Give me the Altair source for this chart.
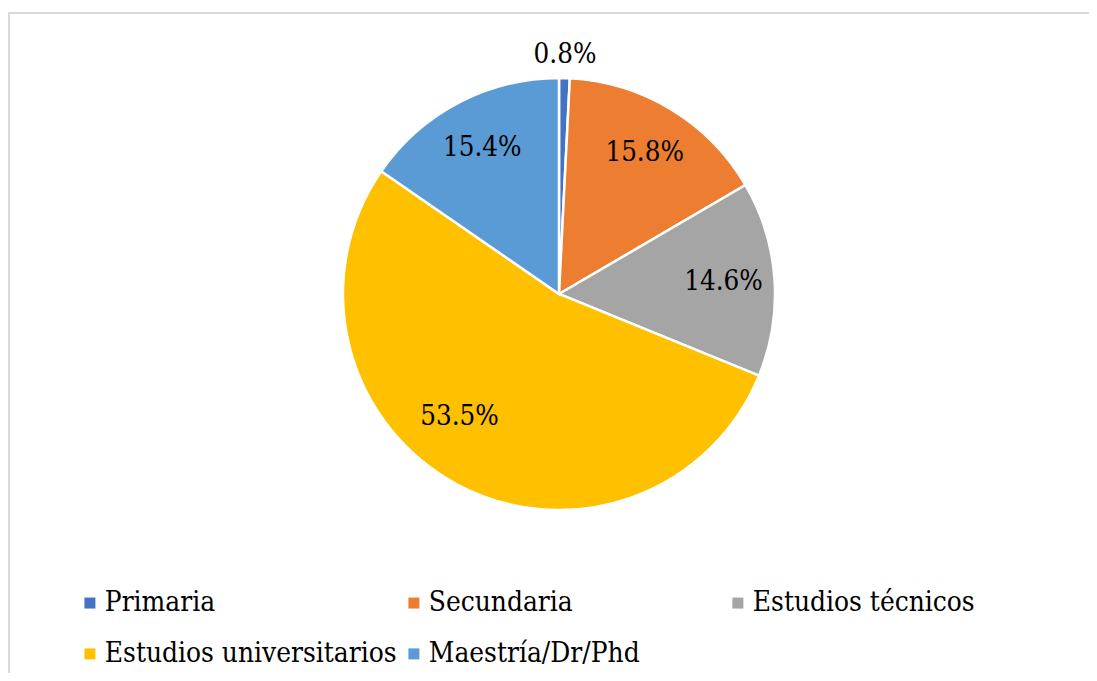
import altair as alt
import pandas as pd

categorias = ["Primaria", "Secundaria", "Estudios técnicos", "Estudios universitarios", "Maestría/Dr/Phd"]
valores = [0.8, 15.8, 14.6, 53.5, 15.4]
colores = ["#4472C4", "#ED7D31", "#A5A5A5", "#FFC000", "#5B9BD5"]
etiquetas = [f"{v}%" for v in valores]

df = pd.DataFrame({
    "categoria": categorias,
    "valor": valores,
    "orden": list(range(len(categorias))),
    "etiqueta": etiquetas,
})
total = sum(valores)

W, H = 1081, 665
CX, CY = 551, 286
R = 216
R_IN = 165
R_OUT = 239
FONT = "DejaVu Serif Condensed"

color = alt.Color(
    "categoria:N",
    scale=alt.Scale(domain=categorias, range=colores),
    legend=alt.Legend(
        title=None, orient="none", legendX=68, legendY=581,
        direction="horizontal", columns=3, gridAlign="all",
        columnPadding=3, rowPadding=22,
        symbolType="square", symbolSize=121, symbolStrokeWidth=0,
        labelFont=FONT, labelFontSize=27.8, labelColor="black",
        labelOffset=1, padding=0, labelLimit=500,
    ),
)

arcs = alt.Chart(df).mark_arc(outerRadius=R, stroke="white", strokeWidth=2.5).encode(
    theta=alt.Theta("valor:Q", stack=True),
    color=color,
    order=alt.Order("orden:Q"),
    x=alt.value(CX),
    y=alt.value(CY),
)

lab = alt.Chart(df).transform_window(
    cum="sum(valor)", sort=[alt.SortField("orden")]
).transform_calculate(
    ang=f"(datum.cum - datum.valor/2) / {total} * 2 * PI"
)

tp = dict(font=FONT, fontSize=27.5, color="black", align="center", baseline="middle")


def label_layer(cond, r, dx=0, dy=0):
    return lab.transform_filter(cond).transform_calculate(
        lx=f"{CX} + {r} * sin(datum.ang)",
        ly=f"{CY} - {r} * cos(datum.ang)",
    ).mark_text(dx=dx, dy=dy, **tp).encode(
        x=alt.X("lx:Q", scale=None, axis=None),
        y=alt.Y("ly:Q", scale=None, axis=None),
        text="etiqueta:N",
    )


inner = label_layer("datum.valor >= 5 && datum.valor < 50", R_IN)
big = label_layer("datum.valor >= 50", R_IN, dx=-21, dy=-22)
outer = label_layer("datum.valor < 5", R_OUT)

bdf = pd.DataFrame({"k": [0]})
top_line = alt.Chart(bdf).mark_rule(color="#d9d9d9", strokeWidth=2).encode(
    x=alt.value(0), x2=alt.value(W), y=alt.value(5)
)
left_line = alt.Chart(bdf).mark_rule(color="#d9d9d9", strokeWidth=2).encode(
    x=alt.value(1), y=alt.value(5), y2=alt.value(H)
)

chart = alt.layer(top_line, left_line, arcs, inner, big, outer).properties(
    width=W, height=H, padding=0,
    autosize=alt.AutoSizeParams(type="none"),
    background="white",
).configure_view(strokeWidth=0)

chart.save("out.html", embed_options={"renderer": "svg", "actions": False})
